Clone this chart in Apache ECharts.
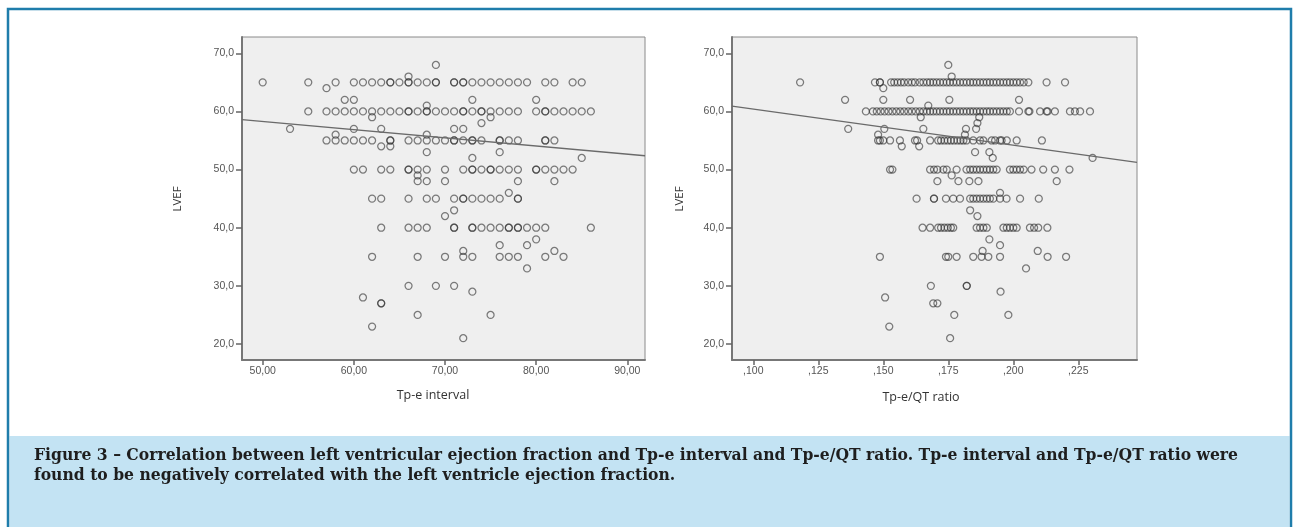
<!DOCTYPE html>
<html>
<head>
<meta charset="utf-8">
<script src="https://cdn.jsdelivr.net/npm/echarts@6/dist/echarts.min.js"></script>
<style>
html,body{margin:0;padding:0;background:#fff;}
#chart{width:1293px;height:527px;}
</style>
</head>
<body>
<div id="chart"></div>
<script>
// ---- Data ----
const yTicks = [20, 30, 40, 50, 60, 70];
const xTicksLeft = [50, 60, 70, 80, 90];
const xTicksRight = [0.100, 0.125, 0.150, 0.175, 0.200, 0.225];

// Left panel: [Tp-e interval, LVEF]
const tpePoints = [
  [69,68],[66,66],
  [50,65],[55,65],[58,65],[60,65],[61,65],[62,65],[63,65],[64,65],[64,65],[65,65],[66,65],[66,65],[67,65],[68,65],[69,65],[69,65],
  [71,65],[71,65],[72,65],[72,65],[73,65],[74,65],[75,65],[76,65],[77,65],[78,65],[79,65],[81,65],[82,65],[84,65],[85,65],
  [57,64],
  [59,62],[60,62],[73,62],[80,62],
  [68,61],
  [55,60],[57,60],[58,60],[59,60],[60,60],[61,60],[62,60],[63,60],[64,60],[65,60],[66,60],[66,60],[67,60],[68,60],[68,60],[69,60],[70,60],
  [71,60],[72,60],[72,60],[73,60],[74,60],[74,60],[75,60],[76,60],[77,60],[78,60],[80,60],[81,60],[81,60],[82,60],[83,60],[84,60],[85,60],[86,60],
  [62,59],[75,59],
  [74,58],
  [53,57],[60,57],[63,57],[71,57],[72,57],
  [58,56],[68,56],
  [57,55],[58,55],[59,55],[60,55],[61,55],[62,55],[64,55],[64,55],[66,55],[67,55],[68,55],[69,55],[70,55],[71,55],[71,55],[72,55],
  [73,55],[73,55],[74,55],[76,55],[76,55],[77,55],[78,55],[81,55],[81,55],[82,55],
  [63,54],[64,54],
  [68,53],[76,53],
  [73,52],[85,52],
  [60,50],[61,50],[63,50],[64,50],[66,50],[66,50],[67,50],[68,50],[70,50],[72,50],[73,50],[73,50],[74,50],[75,50],[75,50],[76,50],
  [77,50],[78,50],[80,50],[80,50],[81,50],[82,50],[83,50],[84,50],
  [67,49],
  [67,48],[68,48],[70,48],[78,48],[82,48],
  [77,46],
  [62,45],[63,45],[66,45],[68,45],[69,45],[71,45],[72,45],[72,45],[73,45],[74,45],[75,45],[76,45],[78,45],[78,45],
  [71,43],[70,42],
  [63,40],[66,40],[67,40],[68,40],[71,40],[71,40],[73,40],[73,40],[74,40],[75,40],[76,40],[77,40],[77,40],[78,40],[78,40],[79,40],[80,40],[81,40],[86,40],
  [80,38],[76,37],[79,37],[72,36],[82,36],
  [62,35],[67,35],[70,35],[72,35],[73,35],[76,35],[77,35],[78,35],[81,35],[83,35],
  [79,33],
  [66,30],[69,30],[71,30],
  [73,29],[61,28],[63,27],[63,27],[67,25],[75,25],[62,23],[72,21]
];

// Right panel: [Tp-e/QT ratio, LVEF]
const ratioPoints = [
  [0.1750,68],[0.1763,66],
  [0.1180,65],[0.1468,65],[0.1487,65],[0.1487,65],
  [0.1530,65],[0.1542,65],[0.1555,65],[0.1568,65],[0.1580,65],[0.1596,65],[0.1610,65],[0.1622,65],[0.1640,65],[0.1654,65],
  [0.1668,65],[0.1680,65],[0.1692,65],[0.1705,65],[0.1718,65],[0.1731,65],[0.1744,65],[0.1756,65],[0.1769,65],[0.1782,65],
  [0.1795,65],[0.1808,65],[0.1821,65],[0.1834,65],[0.1846,65],[0.1859,65],[0.1872,65],[0.1885,65],[0.1898,65],[0.1910,65],
  [0.1923,65],[0.1936,65],[0.1949,65],[0.1962,65],[0.1975,65],[0.1987,65],[0.2000,65],[0.2013,65],[0.2026,65],[0.2040,65],
  [0.2058,65],[0.2128,65],[0.2199,65],
  [0.1500,64],
  [0.1353,62],[0.1500,62],[0.1603,62],[0.1754,62],[0.2022,62],
  [0.1673,61],
  [0.1433,60],[0.1460,60],[0.1475,60],[0.1490,60],[0.1505,60],[0.1520,60],[0.1535,60],[0.1550,60],[0.1565,60],[0.1580,60],
  [0.1596,60],[0.1610,60],[0.1625,60],[0.1640,60],[0.1654,60],[0.1668,60],[0.1680,60],[0.1692,60],[0.1705,60],[0.1718,60],
  [0.1731,60],[0.1744,60],[0.1756,60],[0.1769,60],[0.1782,60],[0.1795,60],[0.1808,60],[0.1821,60],[0.1834,60],[0.1846,60],
  [0.1859,60],[0.1872,60],[0.1885,60],[0.1898,60],[0.1910,60],[0.1923,60],[0.1936,60],[0.1949,60],[0.1962,60],[0.1975,60],
  [0.1987,60],[0.2022,60],[0.2058,60],[0.2062,60],[0.2103,60],[0.2128,60],[0.2132,60],[0.2160,60],
  [0.2218,60],[0.2237,60],[0.2257,60],[0.2295,60],
  [0.1644,59],[0.1869,59],
  [0.1862,58],
  [0.1365,57],[0.1504,57],[0.1654,57],[0.1818,57],[0.1857,57],
  [0.1480,56],[0.1814,56],
  [0.1480,55],[0.1487,55],[0.1500,55],[0.1526,55],[0.1564,55],[0.1622,55],[0.1630,55],[0.1680,55],[0.1711,55],[0.1722,55],
  [0.1735,55],[0.1748,55],[0.1760,55],[0.1772,55],[0.1785,55],[0.1797,55],[0.1808,55],[0.1820,55],[0.1846,55],[0.1872,55],
  [0.1885,55],[0.1917,55],[0.1930,55],[0.1949,55],[0.1955,55],[0.1975,55],[0.2013,55],[0.2110,55],
  [0.1571,54],[0.1638,54],
  [0.1853,53],[0.1908,53],
  [0.1921,52],[0.2305,52],
  [0.1526,50],[0.1535,50],[0.1680,50],[0.1695,50],[0.1708,50],[0.1731,50],[0.1744,50],[0.1782,50],[0.1820,50],[0.1834,50],
  [0.1846,50],[0.1859,50],[0.1872,50],[0.1885,50],[0.1898,50],[0.1910,50],[0.1923,50],[0.1936,50],[0.1987,50],[0.2000,50],
  [0.2013,50],[0.2026,50],[0.2040,50],[0.2070,50],[0.2115,50],[0.2160,50],[0.2216,50],
  [0.1763,49],
  [0.1708,48],[0.1789,48],[0.1831,48],[0.1866,48],[0.2167,48],
  [0.1949,46],
  [0.1628,45],[0.1695,45],[0.1695,45],[0.1741,45],[0.1769,45],[0.1795,45],[0.1834,45],[0.1846,45],[0.1859,45],[0.1872,45],
  [0.1885,45],[0.1898,45],[0.1910,45],[0.1923,45],[0.1949,45],[0.1974,45],[0.2026,45],[0.2098,45],
  [0.1834,43],[0.1862,42],
  [0.1651,40],[0.1680,40],[0.1711,40],[0.1722,40],[0.1735,40],[0.1748,40],[0.1760,40],[0.1769,40],[0.1859,40],[0.1872,40],
  [0.1885,40],[0.1898,40],[0.1962,40],[0.1975,40],[0.1987,40],[0.2000,40],[0.2013,40],[0.2064,40],[0.2080,40],[0.2096,40],[0.2131,40],
  [0.1908,38],[0.1949,37],[0.1882,36],[0.2094,36],
  [0.1487,35],[0.1741,35],[0.1750,35],[0.1782,35],[0.1846,35],[0.1878,35],[0.1904,35],[0.1949,35],[0.2132,35],[0.2203,35],
  [0.2049,33],
  [0.1683,30],[0.1821,30],[0.1821,30],
  [0.1951,29],[0.1507,28],[0.1692,27],[0.1708,27],[0.1773,25],[0.1981,25],[0.1523,23],[0.1757,21]
];

// Fit lines (endpoints read at the plot edges)
const tpeFit = [[47.73, 58.6], [91.94, 52.38]];
const ratioFit = [[0.09181, 60.9], [0.24758, 51.25]];

const captionLine1 = 'Figure 3 \u2013 Correlation between left ventricular ejection fraction and Tp-e interval and Tp-e/QT ratio. Tp-e interval and Tp-e/QT ratio were';
const captionLine2 = 'found to be negatively correlated with the left ventricle ejection fraction.';

// ---- Layout helpers ----
const capFamily = '"DejaVu Serif", serif';
const capSize = 16;
const capFont = 'bold ' + capSize + 'px ' + capFamily;
const mctx = document.createElement('canvas').getContext('2d');
mctx.font = capFont;
const capScale = 1204 / mctx.measureText(captionLine1).width;

const tickFont = {color: '#555', fontSize: 10.5, fontFamily: 'Liberation Sans, Arial, sans-serif'};
const nameFont = {fill: '#333', fontSize: 12.5, fontFamily: '"Open Sans", sans-serif'};

function xAxisCfg(idx, min, max, ticks, fmt) {
  return {
    type: 'value', gridIndex: idx, min: min, max: max,
    axisLine: {show: true, onZero: false, lineStyle: {color: '#777', width: 2}},
    axisTick: {show: true, length: 5, customValues: ticks, lineStyle: {color: '#666', width: 1.5}},
    axisLabel: Object.assign({customValues: ticks, margin: 6, formatter: fmt}, tickFont),
    splitLine: {show: false}
  };
}
function yAxisCfg(idx) {
  return {
    type: 'value', gridIndex: idx, min: 17.25, max: 72.8,
    axisLine: {show: true, onZero: false, lineStyle: {color: '#777', width: 2}},
    axisTick: {show: true, length: 6, customValues: yTicks, lineStyle: {color: '#666', width: 1.5}},
    axisLabel: Object.assign({customValues: yTicks, margin: 8, formatter: v => v.toFixed(1).replace('.', ',')}, tickFont),
    splitLine: {show: false}
  };
}
const pointStyle = {
  symbol: 'circle', symbolSize: 7,
  itemStyle: {color: 'rgba(0,0,0,0)', borderColor: 'rgba(50,50,50,0.78)', borderWidth: 1.25}
};

const chart = echarts.init(document.getElementById('chart'), null, {renderer: 'canvas'});
chart.setOption({
  animation: false,
  backgroundColor: '#fff',
  grid: [
    {left: 242, top: 37, width: 403, height: 323, show: true, backgroundColor: '#efefef', borderColor: '#8a8a8a', borderWidth: 1},
    {left: 732, top: 37, width: 405, height: 323, show: true, backgroundColor: '#efefef', borderColor: '#8a8a8a', borderWidth: 1}
  ],
  xAxis: [
    xAxisCfg(0, 47.73, 91.94, xTicksLeft, v => v.toFixed(2).replace('.', ',')),
    xAxisCfg(1, 0.09181, 0.24758, xTicksRight, v => v.toFixed(3).replace('0.', ','))
  ],
  yAxis: [yAxisCfg(0), yAxisCfg(1)],
  series: [
    Object.assign({type: 'scatter', xAxisIndex: 0, yAxisIndex: 0, data: tpePoints, silent: true}, pointStyle),
    Object.assign({type: 'scatter', xAxisIndex: 1, yAxisIndex: 1, data: ratioPoints, silent: true}, pointStyle),
    {type: 'line', xAxisIndex: 0, yAxisIndex: 0, data: tpeFit, symbol: 'none', silent: true,
     lineStyle: {color: '#6a6a6a', width: 1.3}},
    {type: 'line', xAxisIndex: 1, yAxisIndex: 1, data: ratioFit, symbol: 'none', silent: true,
     lineStyle: {color: '#6a6a6a', width: 1.3}}
  ],
  graphic: [
    // frame
    {type: 'rect', shape: {x: 8, y: 9, width: 1283, height: 530}, style: {fill: 'none', stroke: '#1f7dab', lineWidth: 2.5}, z: 10},
    // caption band
    {type: 'rect', shape: {x: 9.5, y: 436, width: 1280, height: 95}, style: {fill: '#c3e3f3'}, z: 5},
    {type: 'text', x: 34, y: 456, scaleX: capScale, style: {text: captionLine1, fill: '#1e1e1e', font: capFont, verticalAlign: 'middle'}, z: 6},
    {type: 'text', x: 34, y: 476, scaleX: capScale, style: {text: captionLine2, fill: '#1e1e1e', font: capFont, verticalAlign: 'middle'}, z: 6},
    // axis titles
    {type: 'text', x: 178, y: 199, rotation: Math.PI / 2, style: Object.assign({text: 'LVEF', align: 'center', verticalAlign: 'middle'}, nameFont, {fontSize: 11.5}), z: 6},
    {type: 'text', x: 680, y: 199, rotation: Math.PI / 2, style: Object.assign({text: 'LVEF', align: 'center', verticalAlign: 'middle'}, nameFont, {fontSize: 11.5}), z: 6},
    {type: 'text', x: 433, y: 395, style: Object.assign({text: 'Tp-e interval', align: 'center', verticalAlign: 'middle'}, nameFont), z: 6},
    {type: 'text', x: 921, y: 397, style: Object.assign({text: 'Tp-e/QT ratio', align: 'center', verticalAlign: 'middle'}, nameFont), z: 6}
  ]
});
</script>
</body>
</html>
